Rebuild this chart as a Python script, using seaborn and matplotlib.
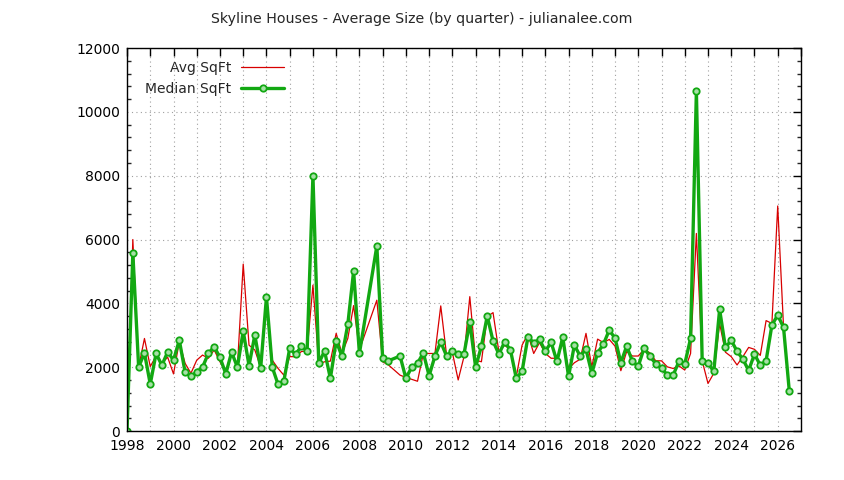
import numpy as np
import pandas as pd
import matplotlib
matplotlib.use("Agg")
import matplotlib.pyplot as plt
import matplotlib.ticker as mticker
import seaborn as sns

# quarterly data (decimal year), some quarters missing in the source
quarter = [
    1998.0, 1998.25, 1998.5, 1998.75,
    1999.0, 1999.25, 1999.5, 1999.75,
    2000.0, 2000.25, 2000.5, 2000.75,
    2001.0, 2001.25, 2001.5, 2001.75,
    2002.0, 2002.25, 2002.5, 2002.75,
    2003.0, 2003.25, 2003.5, 2003.75,
    2004.0, 2004.25, 2004.5, 2004.75,
    2005.0, 2005.25, 2005.5, 2005.75,
    2006.0, 2006.25, 2006.5, 2006.75,
    2007.0, 2007.25, 2007.5, 2007.75,
    2008.0, 2008.75,
    2009.0, 2009.25, 2009.75,
    2010.0, 2010.25, 2010.5, 2010.75,
    2011.0, 2011.25, 2011.5, 2011.75,
    2012.0, 2012.25, 2012.5, 2012.75,
    2013.0, 2013.25, 2013.5, 2013.75,
    2014.0, 2014.25, 2014.5, 2014.75,
    2015.0, 2015.25, 2015.5, 2015.75,
    2016.0, 2016.25, 2016.5, 2016.75,
    2017.0, 2017.25, 2017.5, 2017.75,
    2018.0, 2018.25, 2018.5, 2018.75,
    2019.0, 2019.25, 2019.5, 2019.75,
    2020.0, 2020.25, 2020.5, 2020.75,
    2021.0, 2021.25, 2021.5, 2021.75,
    2022.0, 2022.25, 2022.5, 2022.75,
    2023.0, 2023.25, 2023.5, 2023.75,
    2024.0, 2024.25, 2024.5, 2024.75,
    2025.0, 2025.25, 2025.5, 2025.75,
    2026.0, 2026.25, 2026.5,
]

avg_sqft = [
    0, 6000, 2000, 2900,
    2020, 2350, 2140, 2310,
    1790, 2800, 2120, 1810,
    2220, 2380, 2280, 2540,
    2170, 1860, 2450, 2020,
    5230, 2690, 2540, 2000,
    3870, 2220, 1960, 1750,
    2330, 2330, 2490, 2510,
    4570, 2100, 2170, 2190,
    3060, 2430, 2900, 3930,
    2540, 4100,
    2170, 2070, 1750,
    1680, 1620, 1560, 2430,
    2430, 2430, 3920, 2380,
    2460, 1600, 2330, 4210,
    2220, 2170, 3580, 3710,
    2490, 2690, 2540, 1700,
    2690, 3040, 2430, 2770,
    2430, 2280, 2280, 2750,
    1950, 2140, 2250, 3060,
    2010, 2880, 2770, 2870,
    2660, 1890, 2490, 2350,
    2350, 2560, 2450, 2200,
    2200, 2010, 1960, 2040,
    1910, 2430, 6190, 2200,
    1490, 1810, 3370, 2470,
    2330, 2070, 2330, 2620,
    2560, 2370, 3460, 3370,
    7050, 3270, 1250,
]

median_sqft = [
    0, 5580, 2000, 2450,
    1470, 2430, 2060, 2480,
    2220, 2850, 1840, 1720,
    1850, 2000, 2430, 2640,
    2310, 1790, 2470, 2000,
    3130, 2050, 3010, 1960,
    4200, 2000, 1460, 1570,
    2590, 2400, 2650, 2510,
    8000, 2120, 2510, 1650,
    2820, 2340, 3340, 5010,
    2430, 5800,
    2280, 2200, 2350,
    1650, 2000, 2120, 2450,
    1730, 2350, 2790, 2350,
    2520, 2410, 2410, 3420,
    2000, 2660, 3600, 2820,
    2410, 2790, 2540, 1650,
    1870, 2940, 2770, 2870,
    2500, 2780, 2180, 2940,
    1710, 2690, 2350, 2560,
    1810, 2450, 2720, 3160,
    2910, 2140, 2660, 2180,
    2030, 2600, 2340, 2110,
    1970, 1750, 1750, 2180,
    2100, 2900, 10650, 2190,
    2120, 1870, 3810, 2620,
    2840, 2500, 2250, 1900,
    2410, 2060, 2200, 3320,
    3630, 3250, 1240,
]

df = pd.DataFrame({"quarter": quarter, "avg": avg_sqft, "median": median_sqft})

sns.set_style("white")
plt.rcParams["font.family"] = ["DejaVu Sans"]

fig, ax = plt.subplots(figsize=(8.44, 4.8), dpi=100)
fig.subplots_adjust(left=0.1505, right=0.949, top=0.9, bottom=0.102)

sns.lineplot(data=df, x="quarter", y="avg", ax=ax, color="#d80000",
             linewidth=0.9, estimator=None, sort=False, label="Avg SqFt")
sns.lineplot(data=df, x="quarter", y="median", ax=ax, color="#12a812",
             linewidth=2.4, estimator=None, sort=False, label="Median SqFt",
             marker="o", markersize=4.6, markerfacecolor="#a6e0a6",
             markeredgecolor="#12a812", markeredgewidth=1.3)

ax.set_xlim(1998, 2027)
ax.set_ylim(0, 12000)
ax.set_xlabel("")
ax.set_ylabel("")

# gnuplot look: labels every 2 years, ticks + grid every year
ax.xaxis.set_major_locator(mticker.MultipleLocator(1))
ax.xaxis.set_major_formatter(
    mticker.FuncFormatter(lambda v, p: f"{int(round(v))}" if int(round(v)) % 2 == 0 else ""))
ax.yaxis.set_major_locator(mticker.MultipleLocator(2000))
ax.yaxis.set_minor_locator(mticker.MultipleLocator(400))

ax.tick_params(axis="both", which="major", direction="in", length=6, width=1,
               top=True, right=True, labelsize=10, colors="black")
ax.tick_params(axis="y", which="minor", direction="in", length=3, width=1,
               left=True, right=True)
ax.tick_params(axis="x", pad=6)
ax.tick_params(axis="y", pad=5)

ax.grid(True, which="major", color="#a0a0a0", linestyle=(0, (1, 3)), linewidth=0.8)
for s in ax.spines.values():
    s.set_color("black")
    s.set_linewidth(1.0)

fig.suptitle("Skyline Houses - Average Size (by quarter) - julianalee.com",
             fontsize=10.2, x=0.5, y=0.975)

leg = ax.legend(loc="upper right", bbox_to_anchor=(0.233, 0.967), frameon=False,
                markerfirst=False, handlelength=3.1, handletextpad=0.7,
                borderpad=0, borderaxespad=0, fontsize=10, labelspacing=0.5)
for t in leg.get_texts():
    t.set_ha("right")

fig.savefig("out.png", dpi=100)
